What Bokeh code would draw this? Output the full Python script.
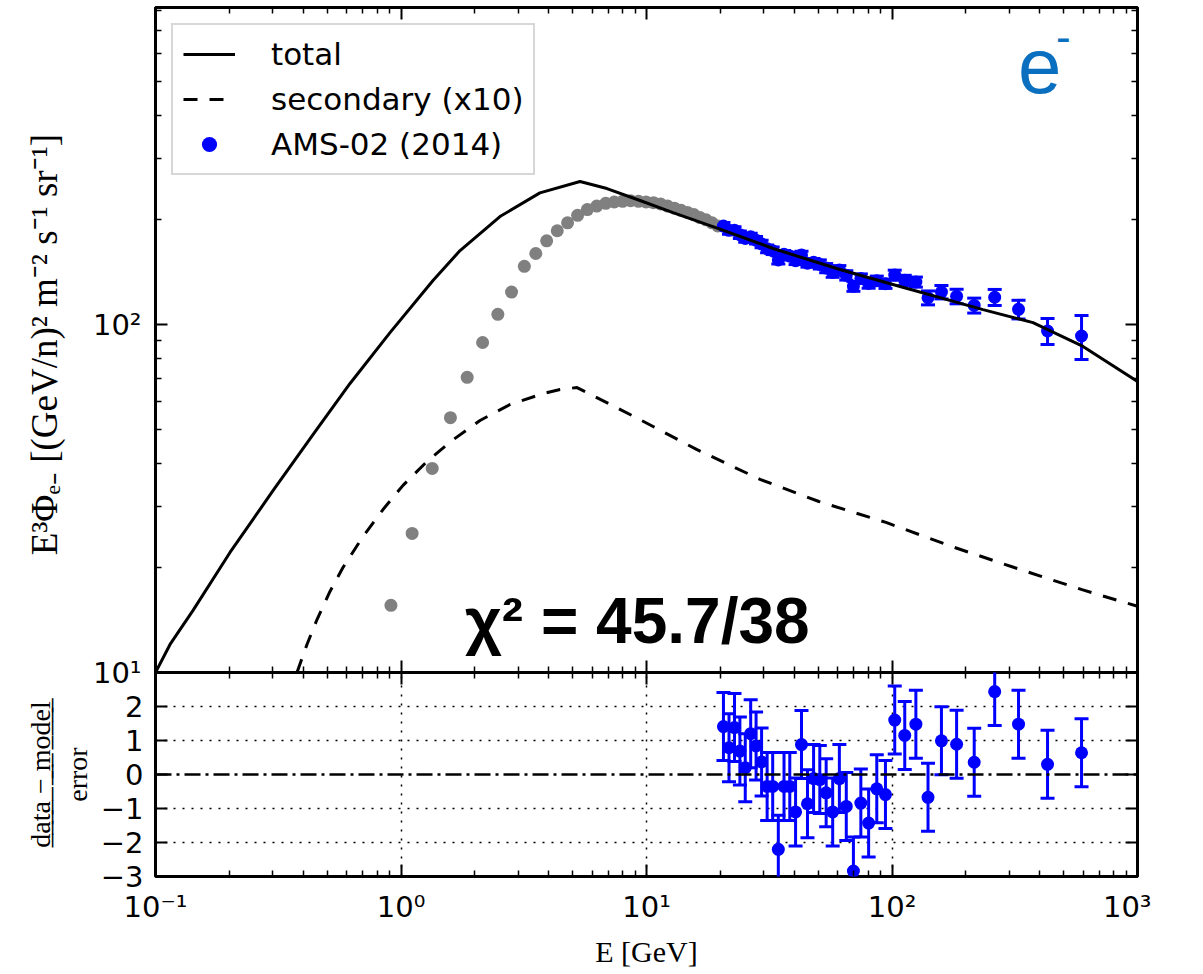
from bokeh.plotting import figure
from bokeh.models import (Range1d, FixedTicker, Whisker, TeeHead, ColumnDataSource,
                          Legend, LegendItem, Label, Span, LinearAxis, LogAxis)
from bokeh.layouts import column
from bokeh.embed import file_html
from bokeh.resources import INLINE

# ---------------- data ----------------
total_E = [0.1, 0.1146, 0.1422, 0.2011, 0.301, 0.438, 0.620, 0.902, 1.35, 1.74, 2.53, 3.68,
           5.36, 6.90, 9.41, 12.82, 19.93, 32.76, 61.4, 107.8, 234.8, 375.2, 599.8, 1000]
total_F = [10, 12.04, 15.08, 22.13, 33.3, 48.3, 67.7, 94.8, 133.8, 163.2, 204.3, 239,
           257.6, 245.9, 227.2, 209.8, 188.1, 165.4, 143.9, 128.6, 110.4, 101.3, 86.5, 68.6]

sec_E = [0.377, 0.414, 0.4548, 0.5138, 0.5802, 0.7003, 0.8447, 1.019, 1.276, 1.613,
         2.098, 2.78, 3.788, 4.443, 5.21, 8.9, 16.06, 29.0, 50.4, 94.5, 175.6, 317, 594, 1000]
sec_F = [10, 12.04, 14.2, 17.1, 20.03, 24.6, 29.4, 34.5, 40.4, 46.4,
         53.0, 58.9, 63.3, 65.05, 65.9, 54.4, 43.7, 35.9, 31.0, 27.0, 23.0, 20.0, 17.3, 15.5]

grey_E = [0.91, 1.11, 1.34, 1.59, 1.86, 2.15, 2.48, 2.82, 3.18, 3.54, 3.92, 4.33,
          4.77, 5.24, 5.74, 6.27, 6.82, 7.39, 7.99, 8.62, 9.28, 9.96, 10.68, 11.42,
          12.19, 13.0, 13.83, 14.69, 15.59, 16.52, 17.49, 18.48, 19.51]
grey_F = [15.6, 25.1, 38.6, 54.0, 70.5, 88.8, 107, 124, 147, 160, 174, 186,
          196, 206, 214, 219, 223, 225, 226, 227, 226, 225, 224, 222,
          219, 216, 213, 210, 207, 203, 200, 196, 192]

ams_E = [20.58, 21.68, 22.83, 24.01, 25.25, 26.57, 27.95, 29.43, 31.0, 32.66,
         34.43, 36.32, 38.34, 40.48, 42.79, 45.26, 47.93, 50.81, 53.93, 57.33,
         61.04, 65.13, 69.64, 74.66, 80.31, 86.70, 94.05, 102.6, 112.7, 125.1,
         140.2, 159.0, 183.3, 216.2, 262.0, 327.6, 430.1, 591.6]
ams_F = [191.9, 186.5, 186.6, 181.2, 176.7, 178.7, 174.8, 170.5, 165.1, 163.0,
         153.4, 159.1, 157.3, 152.6, 158.5, 150.0, 151.0, 148.9, 145.3, 141.1,
         143.4, 138.5, 128.8, 135.6, 131.3, 133.7, 131.0, 138.7, 134.0, 132.5,
         119.4, 124.0, 120.5, 113.5, 119.8, 110.6, 95.8, 92.7]
ams_err = [4.6, 4.6, 4.5, 4.5, 4.4, 4.3, 4.3, 4.2, 4.2, 4.1,
           4.1, 4.0, 4.0, 3.9, 3.9, 3.8, 3.8, 4.5, 4.4, 4.4,
           4.3, 4.3, 4.2, 4.2, 4.1, 4.1, 4.0, 4.6, 4.5, 4.4,
           5.5, 5.5, 5.8, 5.6, 6.35, 6.8, 8.2, 13.4]

resid = [1.41, 0.79, 1.38, 0.69, 0.2, 1.2, 0.84, 0.37, -0.35, -0.35,
         -2.2, -0.35, -0.35, -1.1, 0.88, -0.86, -0.12, -0.15, -0.54, -1.1,
         -0.12, -0.94, -2.84, -0.84, -1.43, -0.42, -0.59, 1.6, 1.15, 1.48,
         -0.67, 0.99, 0.89, 0.36, 2.44, 1.48, 0.3, 0.64]
resid_err = [1.0] * 38

x_major = [0.1, 1, 10, 100, 1000]
x_labels = {0.1: "10\u207b\u00b9", 1: "10\u2070", 10: "10\u00b9", 100: "10\u00b2", 1000: "10\u00b3"}
y_major = [10, 100]
y_labels = {10: "10\u00b9", 100: "10\u00b2"}
r_major = [-3, -2, -1, 0, 1, 2]
r_labels = {-3: "\u22123", -2: "\u22122", -1: "\u22121", 0: "0", 1: "1", 2: "2"}
r_grid = [-2, -1, 1, 2]

x_minor = [k * 10.0 ** d for d in range(-1, 3) for k in range(2, 10)]
y_minor = [k * 10.0 ** d for d in range(1, 3) for k in range(2, 10)]

BLUE = "#0000ff"
GREY = "#808080"
TICKFONT = "DejaVu Sans"
LW = 3


def style_axis(ax, show_labels):
    ax.major_tick_in = 12
    ax.major_tick_out = 0
    ax.minor_tick_in = 6
    ax.minor_tick_out = 0
    ax.major_tick_line_width = 2
    ax.minor_tick_line_width = 1.5
    ax.axis_line_color = None
    ax.major_label_text_font = TICKFONT
    if show_labels:
        ax.major_label_text_font_size = "29px"
        ax.major_label_text_color = "black"
    else:
        ax.major_label_text_font_size = "1px"
        ax.major_label_text_color = None
        ax.major_label_standoff = 0


# ---------------- top panel ----------------
p = figure(x_axis_type="log", y_axis_type="log",
           x_range=Range1d(0.1, 1000), y_range=Range1d(10, 815),
           frame_width=982, frame_height=665,
           min_border_left=155, min_border_right=14, min_border_top=7, min_border_bottom=22,
           output_backend="svg", toolbar_location=None)
p.outline_line_color = "black"
p.outline_line_width = 3
p.xgrid.visible = False
p.ygrid.visible = False

xt = FixedTicker(ticks=x_major, minor_ticks=x_minor)
yt = FixedTicker(ticks=y_major, minor_ticks=y_minor)

p.xaxis.ticker = xt
style_axis(p.xaxis[0], False)
p.yaxis.ticker = yt
style_axis(p.yaxis[0], True)
p.yaxis.major_label_overrides = y_labels
p.yaxis.major_label_standoff = 14
p.yaxis.axis_label = "E\u00b3\u03a6\u2091\u208b  [(GeV/n)\u00b2 m\u207b\u00b2 s\u207b\u00b9 sr\u207b\u00b9]"
p.yaxis.axis_label_text_font = "Liberation Serif"
p.yaxis.axis_label_text_font_size = "37px"
p.yaxis.axis_label_text_font_style = "normal"
p.yaxis.axis_label_text_color = "black"
p.yaxis.axis_label_standoff = 25

ax_top = LogAxis(ticker=xt)
style_axis(ax_top, False)
p.add_layout(ax_top, "above")
ax_right = LogAxis(ticker=yt)
style_axis(ax_right, False)
p.add_layout(ax_right, "right")

grey_src = ColumnDataSource(dict(E=grey_E, F=grey_F))
p.scatter("E", "F", source=grey_src, size=13, color=GREY, line_color=None)

ams_src = ColumnDataSource(dict(E=ams_E, F=ams_F,
                                lo=[f - e for f, e in zip(ams_F, ams_err)],
                                hi=[f + e for f, e in zip(ams_F, ams_err)]))
wh = Whisker(base="E", lower="lo", upper="hi", source=ams_src, dimension="height",
             line_color=BLUE, line_width=3,
             lower_head=TeeHead(size=14, line_color=BLUE, line_width=3),
             upper_head=TeeHead(size=14, line_color=BLUE, line_width=3))
p.add_layout(wh)
r_ams = p.scatter("E", "F", source=ams_src, size=13, color=BLUE, line_color=None)

r_sec = p.line(sec_E, sec_F, line_color="black", line_width=LW, line_dash="14 12")
r_tot = p.line(total_E, total_F, line_color="black", line_width=LW)

legend = Legend(items=[LegendItem(label="total", renderers=[r_tot]),
                       LegendItem(label="secondary (x10)", renderers=[r_sec]),
                       LegendItem(label="AMS-02 (2014)", renderers=[r_ams])],
                location="top_left", margin=16, padding=10, spacing=7,
                glyph_width=52, glyph_height=38, label_standoff=36,
                label_text_font=TICKFONT, label_text_font_size="31px",
                label_text_color="black",
                border_line_color="#b0b0b0", border_line_width=2,
                background_fill_alpha=1.0)
p.add_layout(legend)

p.add_layout(Label(x=326, y=555, text="e", text_font="Liberation Sans",
                   text_font_size="78px", text_color="#0b6fc0", text_baseline="alphabetic"))
p.add_layout(Label(x=466, y=672, text="-", text_font="Liberation Sans",
                   text_font_size="44px", text_color="#0b6fc0", text_baseline="alphabetic"))
p.add_layout(Label(x=1.823, y=14.1, text="\u03c7\u00b2 = 45.7/38", text_font="Liberation Sans",
                   text_font_style="bold", text_font_size="64px", text_color="black",
                   text_baseline="alphabetic"))

# ---------------- residual panel ----------------
p2 = figure(x_axis_type="log", x_range=p.x_range, y_range=Range1d(-3, 3),
            frame_width=982, frame_height=204,
            min_border_left=155, min_border_right=14, min_border_top=0, min_border_bottom=4,
            output_backend="svg", toolbar_location=None)
p2.outline_line_color = "black"
p2.outline_line_width = 3
p2.border_fill_color = None
p2.styles = {"margin-top": "-22px"}

rt = FixedTicker(ticks=r_major, minor_ticks=[])
p2.xaxis.ticker = xt
style_axis(p2.xaxis[0], True)
p2.xaxis.major_label_overrides = x_labels
p2.xaxis.major_label_standoff = 13
p2.xaxis.axis_label = "E [GeV]"
p2.xaxis.axis_label_text_font = "Liberation Serif"
p2.xaxis.axis_label_text_font_size = "30px"
p2.xaxis.axis_label_text_font_style = "normal"
p2.xaxis.axis_label_text_color = "black"
p2.xaxis.axis_label_standoff = 8

p2.yaxis.ticker = rt
style_axis(p2.yaxis[0], True)
p2.yaxis.major_label_overrides = r_labels
p2.yaxis.major_label_standoff = 12
p2.yaxis.axis_label = "d\u0332a\u0332t\u0332a\u0332 \u0332\u2212\u0332 \u0332m\u0332o\u0332d\u0332e\u0332l\u0332\nerror"
p2.yaxis.axis_label_text_font = "Liberation Serif"
p2.yaxis.axis_label_text_font_size = "28px"
p2.yaxis.axis_label_text_font_style = "normal"
p2.yaxis.axis_label_text_color = "black"
p2.yaxis.axis_label_standoff = 5

ax2_top = LogAxis(ticker=xt)
style_axis(ax2_top, False)
p2.add_layout(ax2_top, "above")
ax2_right = LinearAxis(ticker=rt)
style_axis(ax2_right, False)
p2.add_layout(ax2_right, "right")

p2.xgrid.ticker = FixedTicker(ticks=x_major)
p2.ygrid.ticker = FixedTicker(ticks=r_grid)
for g in (p2.xgrid, p2.ygrid):
    g.grid_line_color = "black"
    g.grid_line_dash = "2 7"
    g.grid_line_width = 1.5
    g.grid_line_alpha = 1.0

p2.add_layout(Span(location=0, dimension="width", line_color="black",
                   line_width=2.5, line_dash="16 5 3 5"))

res_src = ColumnDataSource(dict(E=ams_E, r=resid,
                                lo=[a - b for a, b in zip(resid, resid_err)],
                                hi=[a + b for a, b in zip(resid, resid_err)]))
wh2 = Whisker(base="E", lower="lo", upper="hi", source=res_src, dimension="height",
              line_color=BLUE, line_width=3,
              lower_head=TeeHead(size=14, line_color=BLUE, line_width=3),
              upper_head=TeeHead(size=14, line_color=BLUE, line_width=3))
p2.add_layout(wh2)
p2.scatter("E", "r", source=res_src, size=13, color=BLUE, line_color=None)

layout = column(p, p2)
open("out.html", "w").write(file_html(layout, INLINE))
